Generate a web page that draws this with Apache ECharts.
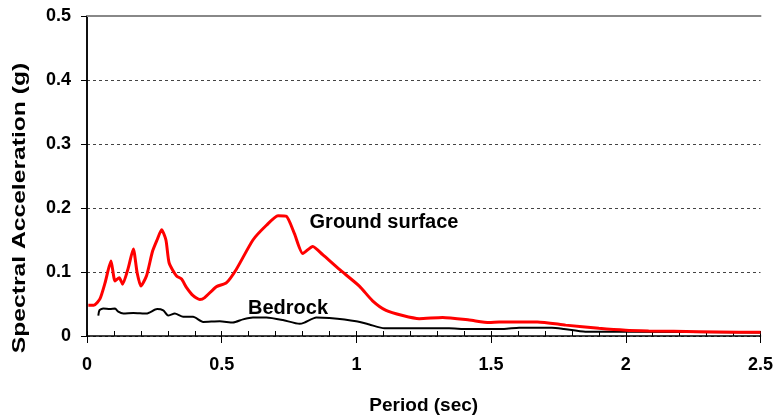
<!DOCTYPE html>
<html>
<head>
<meta charset="utf-8">
<script src="https://cdn.jsdelivr.net/npm/echarts@6/dist/echarts.min.js"></script>
<style>
html,body{margin:0;padding:0;background:#fff;}
#chart{width:776px;height:420px;}
</style>
</head>
<body>
<div id="chart"></div>
<script>
// periods (sec) and spectral accelerations (g)
var groundT = [0.005,0.025,0.048,0.067,0.089,0.104,0.12,0.132,0.153,0.172,0.186,0.2,0.221,0.243,0.26,0.277,0.293,0.305,0.332,0.351,0.369,0.394,0.419,0.437,0.48,0.517,0.554,0.616,0.666,0.709,0.74,0.77,0.801,0.838,0.875,0.937,1.011,1.06,1.11,1.172,1.233,1.32,1.419,1.493,1.53,1.672,1.777,1.9,2.0,2.085,2.27,2.42,2.5];
var groundSa = [0.048,0.048,0.058,0.083,0.117,0.086,0.091,0.081,0.106,0.136,0.099,0.078,0.094,0.132,0.15,0.166,0.15,0.114,0.094,0.089,0.076,0.063,0.057,0.06,0.077,0.083,0.104,0.15,0.173,0.188,0.187,0.16,0.129,0.14,0.127,0.104,0.078,0.055,0.04,0.032,0.027,0.029,0.025,0.021,0.022,0.022,0.017,0.012,0.009,0.008,0.0066,0.0057,0.0057];
var rockT = [0.042,0.046,0.06,0.085,0.104,0.116,0.135,0.172,0.221,0.26,0.283,0.301,0.326,0.357,0.394,0.431,0.493,0.542,0.579,0.616,0.666,0.727,0.789,0.807,0.851,0.9,0.999,1.048,1.104,1.344,1.41,1.548,1.604,1.726,1.77,1.85,2.0,2.5];
var rockSa = [0.032,0.04,0.043,0.042,0.043,0.038,0.035,0.036,0.035,0.042,0.04,0.032,0.035,0.03,0.03,0.022,0.023,0.021,0.026,0.029,0.029,0.025,0.019,0.021,0.029,0.028,0.023,0.018,0.012,0.012,0.011,0.011,0.013,0.013,0.011,0.0066,0.0066,0.0055];

function pairs(xs, ys){
    var out = [];
    for(var i = 0; i < xs.length; i++){
        out.push([xs[i], ys[i]]);
    }
    return out;
}

var font = 'Liberation Sans, Arial, sans-serif';
var myChart = echarts.init(document.getElementById('chart'));

var option = {
    animation: false,
    grid: {left: 87, right: 14, top: 16, bottom: 79},
    xAxis: [
        {
            type: 'value', position: 'bottom', min: 0, max: 2.5, interval: 0.5,
            name: 'Period (sec)', nameLocation: 'middle', nameGap: 60,
            nameTextStyle: {fontFamily: font, fontWeight: 'bold', fontSize: 19, color: '#000'},
            axisLine: {lineStyle: {color: '#000', width: 1.5}},
            axisTick: {length: 7, lineStyle: {color: '#000'}},
            axisLabel: {margin: 20, fontFamily: font, fontWeight: 'bold', fontSize: 18, color: '#000',
                formatter: function(v){ return String(v); }},
            splitLine: {show: false}
        },
        {
            type: 'value', position: 'bottom', min: 0, max: 2.5, interval: 0.1,
            axisLine: {show: false},
            axisTick: {inside: true, length: 5, lineStyle: {color: '#000'}},
            axisLabel: {show: false},
            splitLine: {show: false}
        },
        {
            type: 'value', position: 'top', min: 0, max: 2.5,
            axisLine: {lineStyle: {color: '#888', width: 2}},
            axisTick: {show: false}, axisLabel: {show: false}, splitLine: {show: false}
        }
    ],
    yAxis: [
        {
            type: 'value', position: 'left', min: 0, max: 0.5, interval: 0.1,
            axisLine: {show: true, lineStyle: {color: '#000', width: 1.5}},
            axisTick: {show: true, length: 6, lineStyle: {color: '#000'}},
            axisLabel: {margin: 16, fontFamily: font, fontWeight: 'bold', fontSize: 18, color: '#000',
                formatter: function(v){ return String(v); }},
            splitLine: {show: true, lineStyle: {color: '#444', type: [3, 3], width: 1}}
        },
        {
            type: 'value', position: 'right', min: 0, max: 0.5,
            axisLine: {show: true, lineStyle: {color: '#000', width: 1.5}},
            axisTick: {show: false}, axisLabel: {show: false}, splitLine: {show: false}
        }
    ],
    graphic: [
        {
            type: 'text', x: 20, y: 208, rotation: Math.PI / 2, scaleX: 1.37,
            style: {text: 'Spectral Acceleration (g)', fontFamily: font, fontWeight: 'bold',
                fontSize: 18, fill: '#000', align: 'center', verticalAlign: 'middle'}
        },
        {
            type: 'text', x: 384, y: 222,
            style: {text: 'Ground surface', fontFamily: font, fontWeight: 'bold',
                fontSize: 20, fill: '#000', align: 'center', verticalAlign: 'middle'}
        },
        {
            type: 'text', x: 288, y: 308,
            style: {text: 'Bedrock', fontFamily: font, fontWeight: 'bold',
                fontSize: 20, fill: '#000', align: 'center', verticalAlign: 'middle'}
        }
    ],
    series: [
        {
            name: 'Bedrock', type: 'line', xAxisIndex: 0, yAxisIndex: 0,
            data: pairs(rockT, rockSa), showSymbol: false, smooth: 0.2,
            lineStyle: {color: '#000', width: 2}
        },
        {
            name: 'Ground surface', type: 'line', xAxisIndex: 0, yAxisIndex: 0,
            data: pairs(groundT, groundSa), showSymbol: false, smooth: 0.2,
            lineStyle: {color: '#ff0000', width: 3}
        }
    ]
};
myChart.setOption(option);
</script>
</body>
</html>
